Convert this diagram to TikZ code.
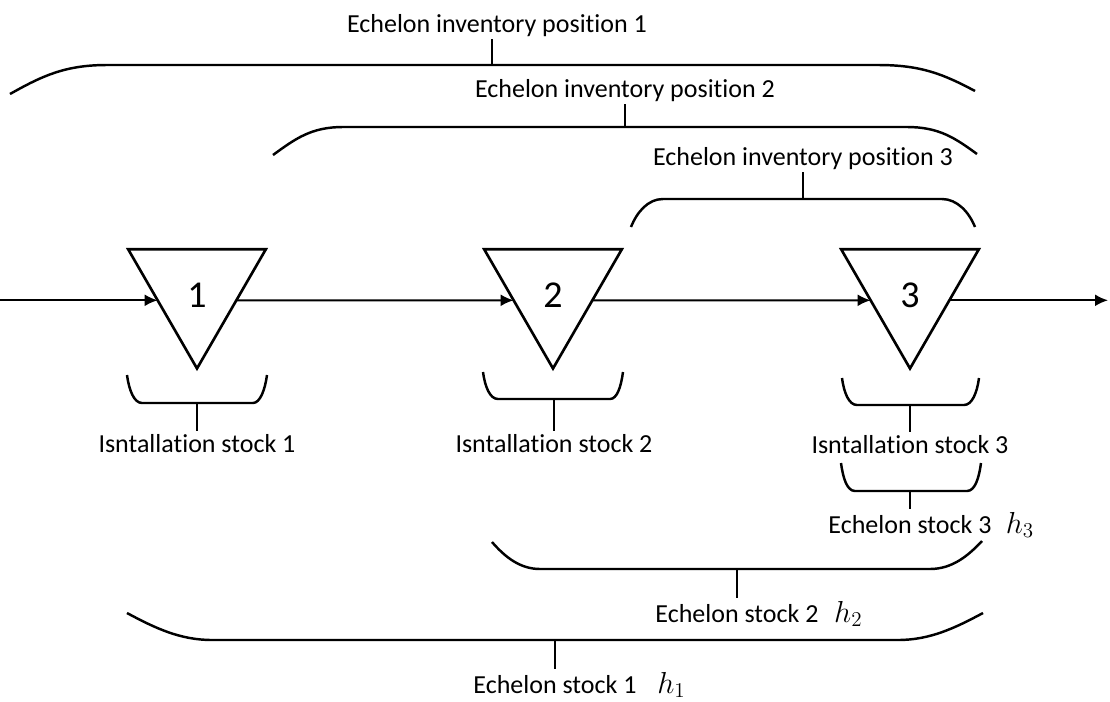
\documentclass[tikz,border=0pt]{standalone}
\usepackage{fontspec}
\setmainfont{Carlito}[Ligatures=NoCommon]
\usetikzlibrary{shapes.geometric,arrows.meta}

\newcommand{\hcost}[1]{{\fontsize{17.5}{20}\selectfont$h_{#1}$}}

\tikzset{
	stock/.style={draw,line width=1.5pt,regular polygon,regular polygon sides=3,
		shape border rotate=180,minimum size=3.18cm,inner sep=0pt,outer sep=0pt,
		font=\fontsize{21.6}{24}\selectfont,text height=0.72cm,text depth=0pt},
	lbl/.style={font=\fontsize{14.8}{17}\selectfont,inner sep=1.5pt,anchor=base},
	brc/.style={line width=1.4pt},
	flow/.style={->,>={Latex[length=7.4pt,width=6.8pt]},line width=1.1pt}
}

\begin{document}
\begin{tikzpicture}[x=0.02cm,y=-0.02cm]
	\useasboundingbox (0,0) rectangle (1110,701);

	%stages
	\node[stock] (n1) at (197,289) {1};
	\node[stock] (n2) at (553,289) {2};
	\node[stock] (n3) at (910,289) {3};

	%arrows
	\coordinate (src) at (0,300);
	\coordinate (snk) at (1108,300);
	\draw[flow] (n1.196 -| src) -- (n1.196);
	\draw[flow] (n1.-16) -- (n2.196);
	\draw[flow] (n2.-16) -- (n3.196);
	\draw[flow] (n3.-16) -- (n3.-16 -| snk);

	%echelon inventory positions
	\node[lbl] (p1) at (497,32) {Echelon inventory position 1};
	\coordinate (m1) at (492,65);
	\draw[brc] (10,94) .. controls (42,76) and (65,65) .. (107,65) -- (878,65) .. controls (921,65) and (943,74) .. (975,91);
	\draw[brc] (m1) -- (m1 |- p1.south);
	%
	\node[lbl] (p2) at (625,97) {Echelon inventory position 2};
	\coordinate (m2) at (625,127);
	\draw[brc] (273,155) .. controls (295,139) and (311,127) .. (343,127) -- (907,127) .. controls (939,127) and (955,138) .. (977,154);
	\draw[brc] (m2) -- (m2 |- p2.south);
	%
	\node[lbl] (p3) at (803,165) {Echelon inventory position 3};
	\coordinate (m3) at (803,199);
	\draw[brc] (631,227) .. controls (637,212) and (648,199) .. (663,199) -- (942,199) .. controls (957,199) and (969,212) .. (975,227);
	\draw[brc] (m3) -- (m3 |- p3.south);

	%installation stocks
	\node[lbl] (s1) at (197,452) {Isntallation stock 1};
	\coordinate (i1) at (197,403);
	\draw[brc] (127,375) .. controls (129,390) and (134,403) .. (142,403) -- (253,403) .. controls (260,403) and (265,390) .. (267,375);
	\draw[brc] (i1) -- (i1 |- s1.north);
	%
	\node[lbl] (s2) at (554,452) {Isntallation stock 2};
	\coordinate (i2) at (554,399);
	\draw[brc] (483,372) .. controls (485,387) and (490,399) .. (498,399) -- (610,399) .. controls (617,399) and (621,387) .. (623,372);
	\draw[brc] (i2) -- (i2 |- s2.north);
	%
	\node[lbl] (s3) at (910,453) {Isntallation stock 3};
	\coordinate (i3) at (910,405);
	\draw[brc] (842,378) .. controls (844,393) and (849,405) .. (857,405) -- (964,405) .. controls (972,405) and (977,393) .. (979,378);
	\draw[brc] (i3) -- (i3 |- s3.north);

	%echelon stocks
	\node[lbl] (e3) at (910,533) {Echelon stock 3\rlap{\hspace{0.55em}\hcost{3}}};
	\coordinate (k3) at (910,491);
	\draw[brc] (841,463) .. controls (843,478) and (847,491) .. (855,491) -- (967,491) .. controls (975,491) and (979,478) .. (981,463);
	\draw[brc] (k3) -- (k3 |- e3.north);
	%
	\node[lbl] (e2) at (737,622) {Echelon stock 2\rlap{\hspace{0.6em}\hcost{2}}};
	\coordinate (k2) at (737,569);
	\draw[brc] (492,542) .. controls (505,557) and (520,569) .. (540,569) -- (930,569) .. controls (952,569) and (968,556) .. (982,541);
	\draw[brc] (k2) -- (k2 |- e2.north);
	%
	\node[lbl] (e1) at (555,693) {Echelon stock 1\rlap{\hspace{0.8em}\hcost{1}}};
	\coordinate (k1) at (555,640);
	\draw[brc] (127,613) .. controls (155,628) and (180,640) .. (212,640) -- (898,640) .. controls (930,640) and (955,628) .. (983,613);
	\draw[brc] (k1) -- (k1 |- e1.north);
\end{tikzpicture}
\end{document}
